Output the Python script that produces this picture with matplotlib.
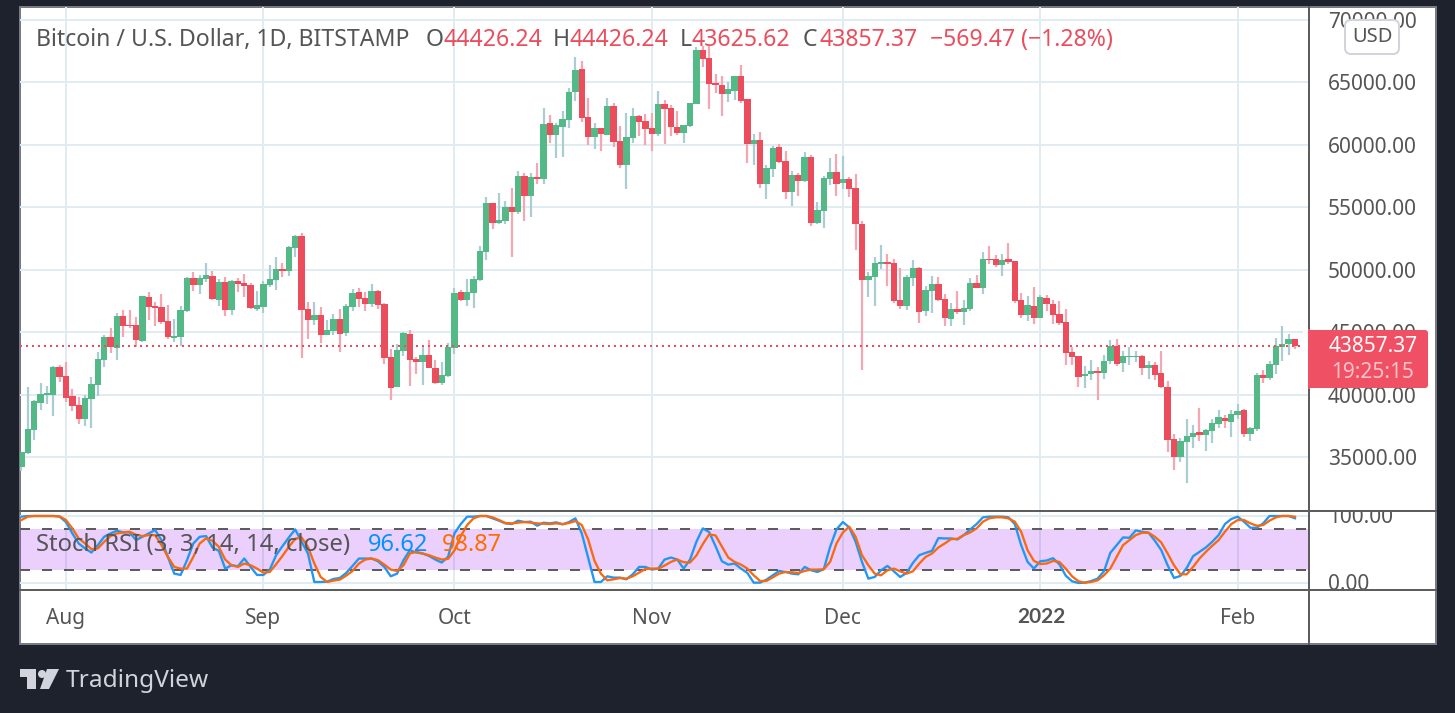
import pandas as pd
import matplotlib
matplotlib.use('Agg')
import matplotlib.pyplot as plt
import matplotlib.dates as mdates
from matplotlib.patches import Rectangle, FancyBboxPatch, Polygon, Circle

plt.rcParams['font.family'] = ['Noto Sans', 'DejaVu Sans']

# daily candles, first one is 25 Jul 2021
start_day = '2021-07-25'

opens = [34200, 35320, 37160, 39320, 39960, 39960, 42210, 41490, 39880, 39160,
         38040, 39640, 40770, 42770, 44610, 43730, 46290, 45570, 45570, 44290,
         47810, 47090, 47010, 45890, 44530, 44610, 46690, 49340, 48780, 49260,
         49500, 47570, 49020, 46770, 49100, 48940, 48780, 46850, 47010, 48780,
         49180, 50060, 49900, 51740, 52700, 46850, 45970, 46370, 44770, 45090,
         46050, 44930, 47010, 48210, 47730, 47250, 48290, 47250, 43010, 40610,
         43490, 44850, 42850, 42610, 43170, 42130, 40930, 41490, 43730, 48210,
         47570, 48130, 49180, 51420, 55340, 53740, 53900, 55020, 54620, 57510,
         55900, 57430, 57270, 61750, 60790, 61430, 61990, 64230, 66080, 62230,
         60630, 61350, 60790, 63110, 60310, 58390, 60550, 62310, 61910, 61350,
         60870, 63270, 62950, 61430, 60950, 61510, 63270, 67600, 66960, 64960,
         64800, 64070, 64310, 65520, 63670, 60070, 60390, 56870, 58070, 59830,
         58710, 56230, 57590, 57110, 59030, 53740, 54700, 57270, 57830, 56950,
         57270, 56550, 53660, 49170, 49410, 50460, 50620, 50540, 47570, 47090,
         49340, 50140, 46690, 48290, 48850, 47650, 46050, 46850, 46610, 46850,
         48930, 48530, 50860, 50860, 50380, 50860, 50700, 47570, 46370, 47090,
         46130, 47730, 47250, 46450, 45810, 43410, 43090, 41490, 41650, 41860,
         41720, 42690, 43890, 42530, 43010, 43010, 43090, 42130, 42370, 41720,
         40600, 36440, 35000, 36200, 36600, 37000, 36760, 37080, 37640, 38120,
         37800, 38360, 38760, 36840, 37240, 41570, 41330, 42370, 43810, 44050,
         44426.24]

highs = [35400, 40610, 39560, 40930, 40690, 42290, 42370, 42610, 40450, 39800,
         39960, 41410, 43410, 44770, 45330, 46530, 46770, 46770, 46210, 47890,
         48210, 47410, 48050, 47170, 46050, 47090, 49420, 49820, 49580, 50540,
         49900, 49260, 49420, 49180, 49340, 49660, 48940, 48290, 49100, 50380,
         51020, 50540, 51900, 52780, 52940, 47410, 47410, 47010, 45970, 46450,
         46850, 47250, 48450, 48540, 48210, 48860, 48370, 47330, 43650, 44050,
         45010, 45170, 43010, 43810, 44370, 42770, 42610, 44130, 48540, 48370,
         49260, 49500, 51900, 55820, 55340, 56150, 55500, 56550, 57910, 57750,
         57750, 58550, 62950, 62390, 61750, 62710, 64550, 67040, 66720, 63750,
         61750, 61350, 63750, 63350, 61510, 62550, 62950, 62390, 62470, 62550,
         64310, 63590, 63190, 62710, 61590, 63350, 67840, 67920, 67920, 65680,
         65520, 65040, 65520, 66400, 63670, 60870, 61030, 58390, 59910, 60070,
         59510, 57910, 57750, 59430, 59190, 55420, 57510, 58950, 59270, 59110,
         57430, 57670, 53900, 49820, 51020, 51980, 51260, 50860, 50140, 49580,
         50780, 50220, 48690, 49500, 49410, 48050, 47330, 48290, 47570, 49340,
         49580, 51420, 51900, 51180, 51260, 52140, 50700, 48130, 47890, 48610,
         47970, 47970, 47570, 47490, 46850, 43810, 43090, 42290, 42770, 42210,
         43170, 44370, 44450, 43490, 43810, 43490, 43170, 42690, 42610, 43490,
         41090, 36840, 36520, 38040, 37560, 38920, 37240, 38040, 38760, 38360,
         38760, 39240, 38840, 37400, 41720, 41970, 42690, 44530, 45490, 44850,
         44426.24]

lows = [33880, 35240, 36360, 38760, 39240, 38280, 41010, 39400, 38680, 37640,
        37480, 37320, 39880, 42210, 43330, 42770, 44610, 45330, 43810, 44210,
        45970, 45490, 45650, 44450, 44210, 43890, 46610, 48290, 48050, 49020,
        47570, 47090, 46290, 46370, 48210, 47810, 46850, 46690, 46530, 48620,
        48370, 49420, 49500, 51020, 42930, 44450, 45570, 44130, 44770, 44770,
        43410, 44690, 46690, 47010, 46690, 47010, 46850, 42450, 39560, 40610,
        43090, 40690, 41650, 40770, 42130, 40850, 40770, 41410, 43250, 47490,
        47090, 46930, 49100, 50780, 53260, 53660, 53660, 51020, 54460, 53900,
        54220, 56870, 56870, 60150, 58950, 59030, 61350, 63510, 61830, 59990,
        59670, 59510, 60790, 59830, 58150, 56470, 60150, 60710, 59990, 59510,
        60710, 60070, 60710, 60790, 60150, 61430, 63270, 66240, 62870, 64150,
        62310, 63430, 63590, 63350, 58550, 58390, 56550, 55660, 57430, 58550,
        55660, 55100, 55900, 57030, 53500, 53660, 53340, 56790, 55900, 56470,
        55820, 51580, 41970, 47810, 47090, 50060, 48690, 47330, 46850, 46770,
        48690, 45730, 46290, 46530, 47490, 45490, 45490, 46450, 45570, 46690,
        48530, 48050, 50460, 50220, 49500, 50460, 47330, 46130, 45890, 45650,
        46130, 46690, 45650, 45570, 42370, 42370, 40600, 40520, 41170, 39560,
        41250, 42450, 42290, 41800, 42370, 42610, 41570, 41250, 41170, 40520,
        35400, 33960, 34600, 32920, 35720, 36280, 35480, 36120, 37320, 37320,
        36600, 38040, 36600, 36280, 37080, 40930, 41170, 41650, 42690, 43170,
        43625.62]

closes = [35400, 37240, 39480, 40040, 40100, 42210, 41410, 39720, 39080, 38040,
          39720, 40850, 42850, 44610, 43810, 46290, 45490, 45490, 44370, 47890,
          47010, 46930, 45810, 44610, 44690, 46770, 49340, 48780, 49340, 49580,
          47650, 49020, 46770, 49100, 48860, 48700, 46930, 47170, 48860, 49260,
          50060, 49900, 51820, 52700, 46770, 45970, 46370, 44770, 45170, 46050,
          44850, 47090, 48130, 47650, 47250, 48290, 47170, 42930, 40530, 43570,
          44930, 42770, 42610, 43170, 42130, 40930, 41570, 43810, 48130, 47570,
          48210, 49260, 51500, 55340, 53740, 53980, 55020, 54620, 57510, 55900,
          57430, 57270, 61670, 60790, 61590, 62070, 64230, 66000, 62150, 60630,
          61350, 60870, 63110, 60230, 58390, 60630, 62310, 61830, 61270, 60870,
          63270, 62870, 61430, 60950, 61590, 63350, 67600, 66880, 64880, 64800,
          64070, 64470, 65520, 63510, 60070, 60390, 56870, 58150, 59750, 58630,
          56230, 57590, 57110, 59030, 53740, 54780, 57350, 57830, 56870, 57270,
          56470, 53660, 49180, 49500, 50540, 50620, 50460, 47490, 47090, 49410,
          50140, 46610, 48370, 48850, 47570, 46130, 46850, 46610, 46930, 48930,
          48530, 50860, 50780, 50380, 50780, 50620, 47490, 46370, 47170, 46130,
          47810, 47250, 46370, 45730, 43330, 43010, 41410, 41650, 41890, 41700,
          42690, 43890, 42450, 43090, 43090, 43090, 42130, 42370, 41570, 40600,
          36360, 35000, 36280, 36680, 36920, 36760, 37160, 37720, 38200, 37880,
          38440, 38680, 36840, 37320, 41570, 41330, 42450, 43890, 44050, 44450,
          43857.37]

stoch_k = [99, 100, 100, 100, 100, 100, 99, 91, 74, 59,
           51.5, 45.5, 56.5, 69, 74, 78, 75.5, 75.5, 64, 69,
           74, 79, 64, 39, 14, 12, 34, 59, 69, 70,
           53, 48, 21.5, 26.5, 25, 36.5, 24, 12, 12, 20,
           41.5, 55, 68, 80, 61.5, 44, 1.5, 1.5, 2, 6,
           7.5, 15, 25.5, 36.5, 36.5, 36.5, 32.5, 24, 10, 14,
           34, 49, 45.5, 44, 40.5, 35, 30.5, 39, 74, 88,
           99, 99, 100, 100, 96.5, 93, 89, 88, 93, 91,
           91.5, 85.5, 90, 89, 90.5, 87.5, 91, 96.5, 74, 37.5,
           1.5, 1.5, 10, 8, 8, 5.5, 13, 24, 24, 20,
           21.5, 35, 38, 35, 21.5, 35, 61.5, 81.5, 76, 55,
           32.5, 27.5, 29, 21.5, 15, 0.5, 0.5, 5, 11.5, 18,
           16.5, 14, 13, 24, 19, 16.5, 20.5, 54, 80, 91,
           83, 61.5, 31.5, 6.5, 9, 19, 25.5, 17.5, 9, 15,
           30, 41.5, 45, 48, 67, 66.5, 66.5, 65, 71.5, 80,
           88, 98, 99, 99, 99, 98, 88, 56.5, 31.5, 21.5,
           32.5, 33.5, 37, 28, 11, 2.5, 0, 0.5, 3, 6.5,
           17.5, 45, 56.5, 68, 67.5, 78.5, 76.5, 75, 63, 49,
           26.5, 7.5, 10.5, 22.5, 40, 46.5, 53, 61.5, 71.5, 88,
           95.5, 99, 91.5, 82.5, 82.5, 89, 100, 100, 100, 100,
           96.62]

stoch_d = [94, 99, 100, 100, 100, 100, 99.5, 94, 81.5, 66.5,
           59, 50.5, 51.5, 61.5, 70, 74, 75.5, 76.5, 72, 70,
           71.5, 71.5, 56.5, 39, 24, 21.5, 21.5, 39, 59, 66.5,
           63, 54, 35, 26.5, 24, 29, 26.5, 21.5, 15.5, 16.5,
           28, 40.5, 54, 66, 68, 54, 29, 9, 1.5, 3.5,
           5, 11, 18, 29, 35, 36.5, 34, 27.5, 20, 18,
           26.5, 44, 46.5, 44, 41.5, 38, 35, 36, 48.5, 70,
           86.5, 96.5, 100, 100, 98, 94, 89.5, 89, 90, 91,
           90, 89, 88.5, 88, 89, 88, 89.5, 92.5, 86.5, 65,
           33, 14, 4, 5.5, 7.5, 6.5, 10, 15.5, 21, 21.5,
           21.5, 26, 31.5, 35, 31, 30.5, 41, 58, 72.5, 71,
           54.5, 38, 31.5, 27.5, 21.5, 11.5, 3, 3, 8.5, 14,
           16.5, 16, 15, 18, 20, 20, 20.5, 31.5, 59, 75.5,
           84, 69, 41.5, 26.5, 14, 11.5, 19, 21.5, 17.5, 14,
           17.5, 29, 39, 44, 53, 59, 65.5, 66, 71.5, 75.5,
           81.5, 91.5, 96.5, 98, 98, 96.5, 91.5, 76.5, 49, 33,
           28.5, 29, 33, 31.5, 21.5, 10, 2.5, 0.5, 1.5, 4,
           11.5, 21.5, 39, 56.5, 64, 71.5, 75, 75, 69, 60.5,
           44, 26.5, 13, 13, 24, 36.5, 46.5, 55.5, 64, 76.5,
           88, 94, 94, 89, 85.5, 86.5, 93, 98, 100, 100,
           98.87]

price_ticks = [35000, 40000, 45000, 50000, 55000, 60000, 65000, 70000]
stoch_ticks = [0, 100]
stoch_band = [20, 80]
month_ticks = ['2021-08-01', '2021-09-01', '2021-10-01', '2021-11-01', '2021-12-01', '2022-01-01', '2022-02-01']
month_labels = ['Aug', 'Sep', 'Oct', 'Nov', 'Dec', '2022', 'Feb']

UP = '#53B987'
DOWN = '#EB4D5C'
UP_WICK = '#A9CDD3'
DOWN_WICK = '#F6A5B2'
GRID = '#E1ECF2'
LINE = '#5D5D5D'
TEXT = '#555555'
BG = '#1E222D'
W, H = 1455, 713


def axes_px(fig, left, top, right, bottom, **kw):
    return fig.add_axes([left / W, 1 - bottom / H, (right - left) / W, (bottom - top) / H], **kw)


def px(n):
    return n * 72 / 100


dates = pd.date_range(start_day, periods=len(closes))
days = mdates.date2num(dates)
month_x = mdates.date2num(pd.to_datetime(month_ticks))
xlim = (month_x[0] - 7.22, month_x[0] + 195.2)

fig = plt.figure(figsize=(W / 100, H / 100), dpi=100, facecolor=BG)

# white panel behind the panes
back = axes_px(fig, 0, 0, W, H, zorder=0)
back.set_xlim(0, W)
back.set_ylim(H, 0)
back.axis('off')
back.add_patch(Rectangle((20, 7), 1416, 637, facecolor='white', edgecolor='#787B86', lw=px(2)))

# price pane
ax = axes_px(fig, 20, 7, 1309, 511, zorder=1)
ax.patch.set_alpha(0)
ax.set_xlim(xlim)
ax.set_ylim(30676, 71041)
for x in month_x:
    ax.axvline(x, color=GRID, lw=px(2), zorder=1)
for y in price_ticks:
    ax.axhline(y, color=GRID, lw=px(2), zorder=1)
for i in range(len(closes)):
    up = closes[i] >= opens[i]
    ax.vlines(days[i], lows[i], highs[i], color=UP_WICK if up else DOWN_WICK, lw=px(2.2), zorder=2)
    ax.bar(days[i], abs(closes[i] - opens[i]), bottom=min(opens[i], closes[i]), width=1.0,
           color=UP if up else DOWN, linewidth=0, zorder=3)
ax.axhline(closes[-1], color=DOWN, lw=px(2), ls=(0, (1, 2)), zorder=4)
ax.yaxis.tick_right()
ax.set_yticks(price_ticks)
ax.set_yticklabels([f'{t:.2f}' for t in price_ticks], fontsize=15, color=TEXT)
ax.tick_params(axis='y', length=0, pad=px(19))
ax.set_xticks([])
for s in ['top', 'left', 'right', 'bottom']:
    ax.spines[s].set_visible(False)

# stoch rsi pane
ax2 = axes_px(fig, 20, 511, 1309, 590, zorder=1)
ax2.patch.set_alpha(0)
ax2.set_xlim(xlim)
ax2.set_ylim(-10.45, 107.46)
for x in month_x:
    ax2.axvline(x, color=GRID, lw=px(2), zorder=1)
for y in stoch_ticks:
    ax2.axhline(y, color=GRID, lw=px(2), zorder=1)
ax2.axhspan(stoch_band[0], stoch_band[1], facecolor='#9D12F5', alpha=0.2, linewidth=0, zorder=2)
for y in stoch_band:
    ax2.axhline(y, color=LINE, lw=px(2), ls=(0, (5, 6)), zorder=3)
ax2.plot(days, stoch_k, color='#2196F3', lw=px(2.3), zorder=4)
ax2.plot(days, stoch_d, color='#F96A10', lw=px(2.3), zorder=5)
ax2.set_yticks([])
ax2.set_xticks(month_x)
ax2.set_xticklabels(month_labels, fontsize=15, color=TEXT)
ax2.get_xticklabels()[5].set_visible(False)
ax2.tick_params(axis='x', length=0, pad=px(18))
for s in ['top', 'left', 'right', 'bottom']:
    ax2.spines[s].set_visible(False)

# stoch scale, the labels get cut by the pane edges
scale = axes_px(fig, 1309, 511, 1436, 590, zorder=1)
scale.patch.set_alpha(0)
scale.axis('off')
scale.set_xlim(1309, 1436)
scale.set_ylim(-10.45, 107.46)
for t in stoch_ticks:
    scale.text(1328, t - 2, f'{t:.2f}', fontsize=15, color=TEXT, va='center', ha='left', clip_on=True)

# everything on top, in picture pixels
top = axes_px(fig, 0, 0, W, H, zorder=5)
top.patch.set_alpha(0)
top.axis('off')
top.set_xlim(0, W)
top.set_ylim(H, 0)
top.plot([1309, 1309], [7, 644], color=LINE, lw=px(2))
top.plot([20, 1436], [511, 511], color=LINE, lw=px(2))
top.plot([20, 1436], [590, 590], color=LINE, lw=px(2))

# bold year label sits with the months
top.text(1041, 617, month_labels[5], fontsize=15, fontweight='bold', family='Lato', color=TEXT, va='center', ha='center')

header = [(36, 'Bitcoin / U.S. Dollar, 1D, BITSTAMP', TEXT), (426, 'O', TEXT), (443, '44426.24', DOWN),
          (553, 'H', TEXT), (570, '44426.24', DOWN), (680, 'L', TEXT), (692, '43625.62', DOWN),
          (803, 'C', TEXT), (819, '43857.37', DOWN), (930, '−569.47 (−1.28%)', DOWN)]
for x, s, c in header:
    top.text(x, 40, s, fontsize=16.6, color=c, va='center', ha='left')

top.text(36, 545, 'Stoch RSI (3, 3, 14, 14, close)', fontsize=17.2, color=TEXT, va='center', ha='left')
top.text(368, 545, f'{stoch_k[-1]:.2f}', fontsize=17, color='#0094FF', va='center', ha='left')
top.text(442, 545, f'{stoch_d[-1]:.2f}', fontsize=17, color='#FF6D00', va='center', ha='left')

# last price tag
top.add_patch(FancyBboxPatch((1303, 330), 125, 58, boxstyle='round,pad=0,rounding_size=3',
                             facecolor='#EF5064', edgecolor='none'))
top.add_patch(Rectangle((1303, 330), 5, 58, facecolor='white', edgecolor='none'))
top.plot([1309, 1309], [330, 388], color='#EF5064', lw=px(2))
top.text(1373, 347, f'{closes[-1]:.2f}', fontsize=15, color='white', va='center', ha='center')
top.text(1373, 373, '19:25:15', fontsize=15, color='#FBC3CB', va='center', ha='center')

# currency button
top.add_patch(FancyBboxPatch((1345, 20), 54, 34, boxstyle='round,pad=0,rounding_size=6',
                             facecolor='white', edgecolor='#D1D4DC', lw=px(2)))
top.text(1372, 37, 'USD', fontsize=14.5, color=TEXT, va='center', ha='center')

# TradingView logo
logo = '#D1D4DC'
top.add_patch(Polygon([(20, 669), (36, 669), (36, 689), (27, 689), (27, 677), (20, 677)], facecolor=logo, edgecolor='none'))
top.add_patch(Circle((42, 674), 4, facecolor=logo, edgecolor='none'))
top.add_patch(Polygon([(47, 669), (59, 669), (49, 689), (40, 689)], facecolor=logo, edgecolor='none'))
top.text(66, 681, 'TradingView', fontsize=17.6, color=logo, va='center', ha='left')

fig.savefig('out.png', dpi=100, facecolor=BG)
